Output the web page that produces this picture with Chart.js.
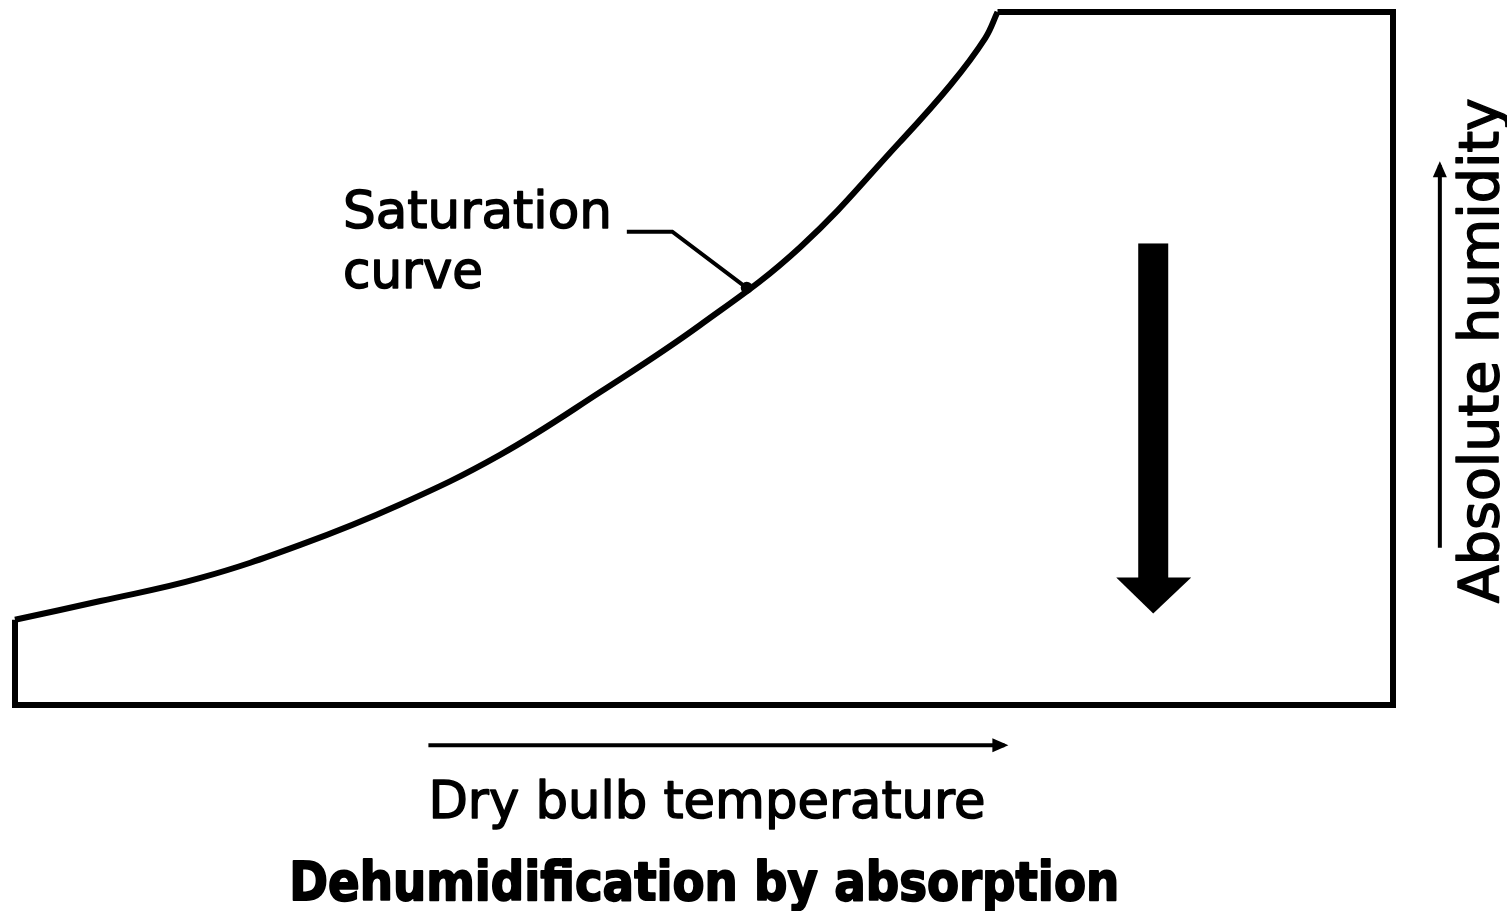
<!DOCTYPE html>
<html>
<head>
<meta charset="utf-8">
<script src="https://cdn.jsdelivr.net/npm/chart.js@4/dist/chart.umd.min.js"></script>
<style>
  html, body { margin: 0; padding: 0; background: #fff; }
  #wrap { width: 1507px; height: 911px; }
</style>
</head>
<body>
<div id="wrap"><canvas id="chart" width="1507" height="911"></canvas></div>
<script>
// =========================
//  DATA (x = dry bulb temp, y = absolute humidity, both 0..100)
// =========================
const curveX = [0, 6.2, 13.4, 20.7, 27.9, 35.2, 42.5, 49.7, 57.0, 64.2, 67.9, 70.4, 71.3];
const curveY = [12.3, 15.0, 18.3, 23.1, 28.9, 36.1, 45.2, 54.8, 66.1, 81.2, 89.5, 96.2, 100];

// rest of the enclosure: top right, down the right side, along the bottom, up the left
const boxX = [71.3, 100, 100, 0, 0];
const boxY = [100, 100, 0, 0, 12.3];

// leader from the label to the curve
const leaderX = [44.4, 47.7, 53.1];
const leaderY = [68.3, 68.3, 60.2];

// dehumidification arrow (points down)
const processX = 82.6;
const processFrom = 66.6;
const processTo = 13.2;

// axis direction arrows
const tempArrowX = [30.0, 71.8];
const tempArrowY = -5.8;
const humArrowX = 103.4;
const humArrowY = [22.7, 77.9];

// labels
const curveLabel = ["Saturation", "curve"];
const xLabel = "Dry bulb temperature";
const yLabel = "Absolute humidity";
const chartTitle = "Dehumidification by absorption";

const toPoints = (xs, ys) => xs.map((x, i) => ({ x, y: ys[i] }));

// =========================
//  TEXT / ARROW HELPERS
// =========================
function fitText(ctx, text, x, y, width, font, weight) {
    ctx.save();
    ctx.font = font;
    const w = ctx.measureText(text).width;
    ctx.translate(x, y);
    ctx.scale(width / w, 1);
    ctx.textAlign = "left";
    ctx.textBaseline = "alphabetic";
    ctx.fillText(text, 0, 0);
    if (weight) {
        ctx.lineWidth = weight;
        ctx.lineJoin = "round";
        ctx.strokeText(text, 0, 0);
    }
    ctx.restore();
}

function thinArrow(ctx, x1, y1, x2, y2) {
    const ang = Math.atan2(y2 - y1, x2 - x1);
    ctx.beginPath();
    ctx.moveTo(x1, y1);
    ctx.lineTo(x2, y2);
    ctx.lineWidth = 4;
    ctx.stroke();
    ctx.beginPath();
    ctx.moveTo(x2 + Math.cos(ang) * 4, y2 + Math.sin(ang) * 4);
    ctx.lineTo(x2 - Math.cos(ang) * 12 + Math.sin(ang) * 7, y2 - Math.sin(ang) * 12 - Math.cos(ang) * 7);
    ctx.lineTo(x2 - Math.cos(ang) * 12 - Math.sin(ang) * 7, y2 - Math.sin(ang) * 12 + Math.cos(ang) * 7);
    ctx.closePath();
    ctx.fill();
}

const extras = {
    id: "extras",
    afterDatasetsDraw(chart) {
        const { ctx, scales: { x, y } } = chart;
        ctx.save();
        ctx.fillStyle = "#000";
        ctx.strokeStyle = "#000";

        // big process arrow
        const ax = x.getPixelForValue(processX);
        const top = y.getPixelForValue(processFrom);
        const tip = y.getPixelForValue(processTo);
        ctx.fillRect(ax - 15, top, 30, tip - top - 34);
        ctx.beginPath();
        ctx.moveTo(ax - 37, tip - 36);
        ctx.lineTo(ax + 38, tip - 36);
        ctx.lineTo(ax, tip);
        ctx.closePath();
        ctx.fill();

        // leader end dot
        ctx.beginPath();
        ctx.arc(x.getPixelForValue(leaderX[2]), y.getPixelForValue(leaderY[2]), 6, 0, Math.PI * 2);
        ctx.fill();

        // axis direction arrows
        thinArrow(ctx, x.getPixelForValue(tempArrowX[0]), y.getPixelForValue(tempArrowY),
                       x.getPixelForValue(tempArrowX[1]), y.getPixelForValue(tempArrowY));
        thinArrow(ctx, x.getPixelForValue(humArrowX), y.getPixelForValue(humArrowY[0]),
                       x.getPixelForValue(humArrowX), y.getPixelForValue(humArrowY[1]));

        // curve label
        fitText(ctx, curveLabel[0], x.getPixelForValue(23.8), y.getPixelForValue(68.8), 269, "52px 'DejaVu Sans'", 1.5);
        fitText(ctx, curveLabel[1], x.getPixelForValue(23.8), y.getPixelForValue(60.2), 140, "52px 'DejaVu Sans'", 1.5);

        // axis labels and title
        fitText(ctx, xLabel, x.getPixelForValue(30.0), y.getPixelForValue(-16.3), 557, "52px 'DejaVu Sans'", 1.5);
        fitText(ctx, chartTitle, x.getPixelForValue(19.9), y.getPixelForValue(-28.1), 830, "bold 54px 'DejaVu Sans'", 2);

        ctx.save();
        ctx.translate(x.getPixelForValue(107.6), y.getPixelForValue(14.7));
        ctx.rotate(-Math.PI / 2);
        fitText(ctx, yLabel, 0, 0, 505, "56px 'DejaVu Sans'", 1.5);
        ctx.restore();

        ctx.restore();
    }
};

// =========================
//  CHART
// =========================
new Chart(document.getElementById("chart"), {
    type: "scatter",
    data: {
        datasets: [
            {
                label: "Saturation curve",
                data: toPoints(curveX, curveY),
                showLine: true,
                borderColor: "#000",
                borderWidth: 6,
                pointRadius: 0,
                tension: 0.4,
                clip: false
            },
            {
                label: "Enclosure",
                data: toPoints(boxX, boxY),
                showLine: true,
                borderColor: "#000",
                borderWidth: 6,
                borderJoinStyle: "miter",
                pointRadius: 0,
                tension: 0,
                clip: false
            },
            {
                label: "Leader",
                data: toPoints(leaderX, leaderY),
                showLine: true,
                borderColor: "#000",
                borderWidth: 4,
                pointRadius: 0,
                tension: 0,
                clip: false
            }
        ]
    },
    options: {
        responsive: false,
        animation: false,
        layout: { padding: { left: 15, top: 12, right: 114, bottom: 206 } },
        plugins: {
            legend: { display: false },
            tooltip: { enabled: false }
        },
        scales: {
            x: { type: "linear", min: 0, max: 100, display: false },
            y: { type: "linear", min: 0, max: 100, display: false }
        }
    },
    plugins: [extras]
});
</script>
</body>
</html>
